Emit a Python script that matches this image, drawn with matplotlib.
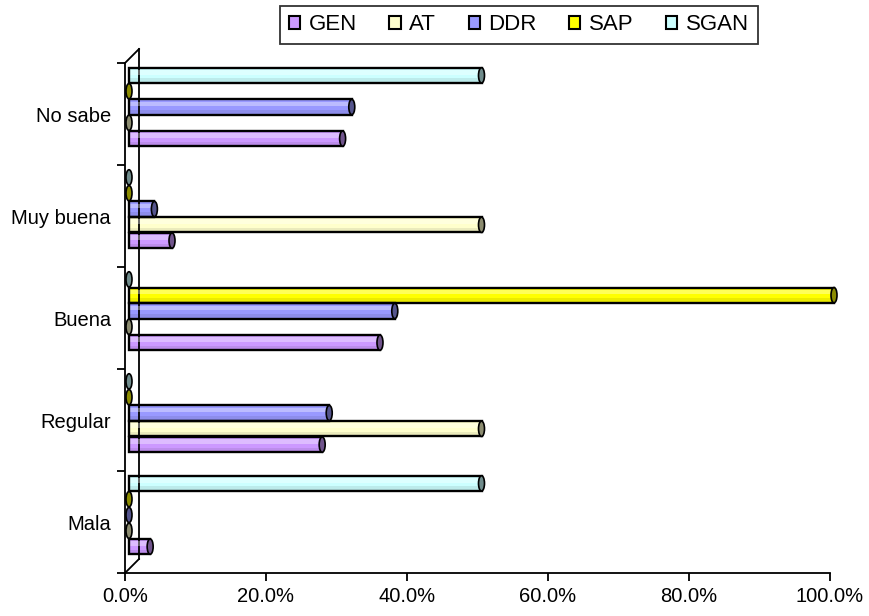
import matplotlib
matplotlib.use("Agg")
import matplotlib.pyplot as plt
from matplotlib.patches import Ellipse
from matplotlib.transforms import ScaledTranslation
from matplotlib.lines import Line2D
import matplotlib.colors as mcolors
import numpy as np

plt.rcParams['font.family'] = ['Liberation Sans', 'DejaVu Sans']

categories = ["Mala", "Regular", "Buena", "Muy buena", "No sabe"]
series_names = ["GEN", "AT", "DDR", "SAP", "SGAN"]
GEN = [3.0, 27.4, 35.6, 6.1, 30.3]
AT = [0.0, 50.0, 0.0, 50.0, 0.0]
DDR = [0.0, 28.4, 37.7, 3.6, 31.6]
SAP = [0.0, 0.0, 100.0, 0.0, 0.0]
SGAN = [50.0, 0.0, 0.0, 0.0, 50.0]
series_values = [GEN, AT, DDR, SAP, SGAN]
colors = ["#CC99FF", "#FFFFCC", "#9999FF", "#FFFF00", "#CCFFFF"]
xtick_labels = ["0.0%", "20.0%", "40.0%", "60.0%", "80.0%", "100.0%"]

W, H = 869, 616
fig = plt.figure(figsize=(W/100, H/100), dpi=100)
ax_l, ax_r, ax_t, ax_b = 125, 830, 63, 573
ax = fig.add_axes([ax_l/W, (H-ax_b)/H, (ax_r-ax_l)/W, (ax_b-ax_t)/H])
ax.set_xlim(0, 1)
ax.set_ylim(-0.5, 4.5)

# depth offsets
off = ScaledTranslation(4/100, 7/100, fig.dpi_scale_trans)
trans = ax.transData + off

pitch = 0.155
bh = 0.15
ypos = np.arange(len(categories))
px_per_unit = (ax_r - ax_l)
cap_w = 6 / px_per_unit

def darker(c, f=0.55):
    r, g, b = mcolors.to_rgb(c)
    return (r*f, g*f, b*f)

for i, (vals, col) in enumerate(zip(series_values, colors)):
    yy = ypos + (i - 2) * pitch
    for y, v in zip(yy, vals):
        x = v / 100.0
        if x > 0:
            ax.add_patch(plt.Rectangle((0, y - bh/2), x, bh, facecolor=col,
                                       edgecolor='none', transform=trans, zorder=2, clip_on=False))
            ax.add_patch(plt.Rectangle((0, y + bh*0.05), x, bh*0.3, facecolor='white',
                                       alpha=0.35, edgecolor='none', transform=trans, zorder=2.1, clip_on=False))
            ax.add_patch(plt.Rectangle((0, y - bh/2), x, bh*0.3, facecolor='black',
                                       alpha=0.08, edgecolor='none', transform=trans, zorder=2.1, clip_on=False))
            ax.add_patch(plt.Rectangle((0, y - bh/2), x, bh, facecolor='none',
                                       edgecolor='black', lw=1.7, transform=trans, zorder=2.2, clip_on=False))
        ax.add_patch(Ellipse((x, y), cap_w, bh, facecolor=darker(col),
                             edgecolor='black', lw=1.2, transform=trans, zorder=2.3, clip_on=False))

# axes styling
for s in ['top', 'right']:
    ax.spines[s].set_visible(False)
ax.spines['left'].set_linewidth(1.3)
ax.spines['bottom'].set_linewidth(1.3)

ax.set_xticks(np.linspace(0, 1, 6))
ax.set_xticklabels(xtick_labels, fontsize=14.5)
ax.set_yticks(ypos)
ax.set_yticklabels(categories, fontsize=14.5)
ax.tick_params(axis='y', which='major', length=0, pad=10)
ax.set_yticks(np.arange(-0.5, 4.6, 1), minor=True)
ax.tick_params(axis='y', which='minor', length=6, width=1.3, direction='out')
ax.tick_params(axis='x', which='major', length=6, width=1.3, direction='out', pad=4)

# back wall lines (3D depth)
d = ScaledTranslation(14/100, 14/100, fig.dpi_scale_trans)
tb = ax.transAxes + d
ax.add_line(Line2D([0, 0], [0, 1], transform=tb, color='black', lw=1.3, clip_on=False))
ax.add_line(Line2D([0, 14/px_per_unit], [1, 1 + 14/(ax_b-ax_t)], transform=ax.transAxes,
                   color='black', lw=1.3, clip_on=False))
ax.add_line(Line2D([0, 14/px_per_unit], [0, 14/(ax_b-ax_t)], transform=ax.transAxes,
                   color='black', lw=1.3, clip_on=False))

# legend
handles = [plt.Rectangle((0, 0), 1, 1, facecolor=c, edgecolor='black', lw=1.5) for c in colors]
leg = fig.legend(handles, series_names, loc='center', bbox_to_anchor=(519/W, 1 - 25/H),
                 ncol=5, frameon=True, fontsize=16, handlelength=0.5, handleheight=0.5,
                 handletextpad=0.4, columnspacing=1.45, borderpad=0.4, fancybox=False,
                 edgecolor='black')
leg.get_frame().set_linewidth(1.3)

fig.savefig("out.png", dpi=100)
